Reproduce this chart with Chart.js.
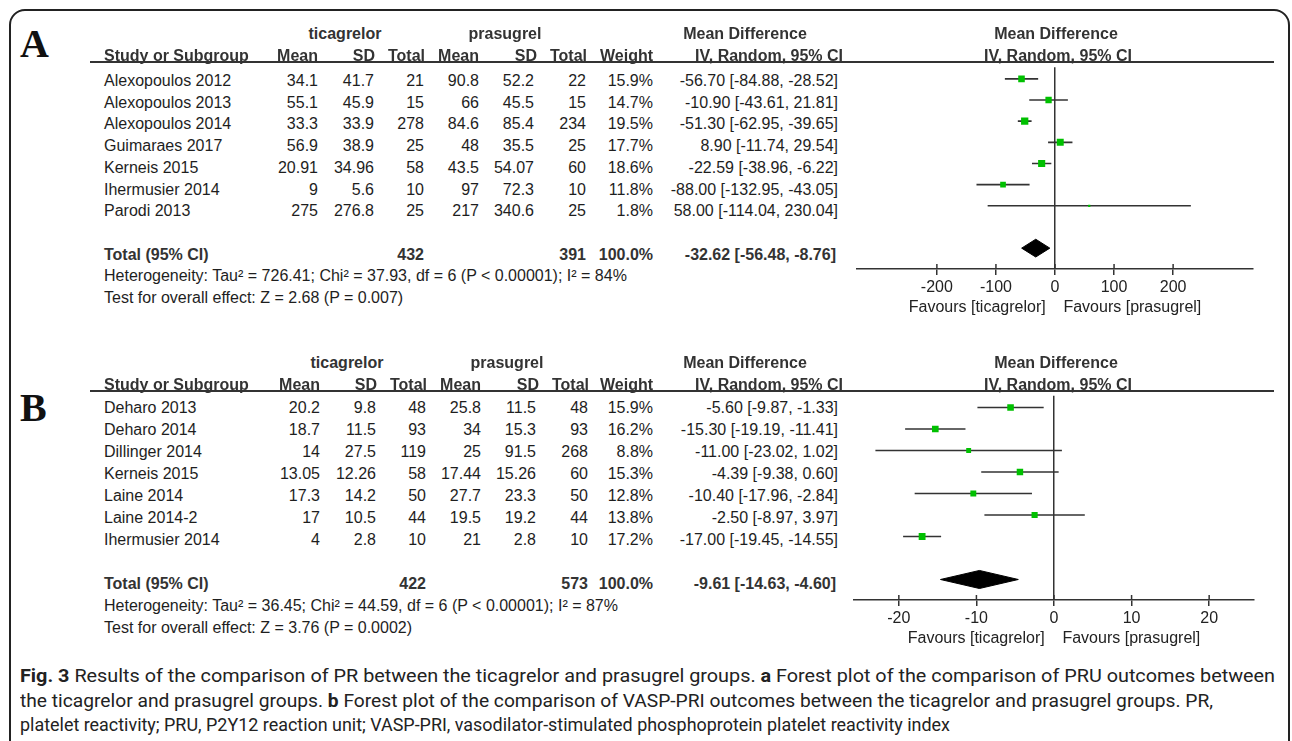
<!DOCTYPE html>
<html>
<head>
<meta charset="utf-8">
<script src="https://cdn.jsdelivr.net/npm/chart.js@4.4.1/dist/chart.umd.min.js"></script>
<style>
html, body { margin: 0; padding: 0; background: #fff; }
body { width: 1292px; height: 741px; overflow: hidden; position: relative; font-family: "Liberation Sans", Arial, sans-serif; }
#frame { position: absolute; left: 9px; top: 9px; width: 1281px; height: 820px; border: 2px solid #222; border-radius: 16px; box-sizing: border-box; }
.t { position: absolute; white-space: nowrap; font-size: 16px; line-height: 18px; color: #1e1e1e; }
.b { font-weight: bold; color: #333; }
.rule { position: absolute; height: 1.5px; background: #333; }
.letter { position: absolute; font-family: "Liberation Serif", "Times New Roman", serif; font-weight: bold; font-size: 40px; line-height: 40px; color: #111; }
canvas { position: absolute; }
.cap { position: absolute; left: 20px; white-space: nowrap; font-family: Roboto, "Noto Sans", sans-serif; font-size: 19px; line-height: 22px; color: #222; transform-origin: 0 0; }
.cap b { font-weight: bold; }
</style>
</head>
<body>
<div id="frame"></div>
<canvas id="forestA"></canvas>
<canvas id="forestB"></canvas>
<script>
// --- Data: panel A (PRU) ---
const studiesA = ['Alexopoulos 2012', 'Alexopoulos 2013', 'Alexopoulos 2014', 'Guimaraes 2017', 'Kerneis 2015', 'Ihermusier 2014', 'Parodi 2013'];
const ticMeanA = [34.1, 55.1, 33.3, 56.9, 20.91, 9, 275];
const ticSdA   = [41.7, 45.9, 33.9, 38.9, 34.96, 5.6, 276.8];
const ticNA    = [21, 15, 278, 25, 58, 10, 25];
const praMeanA = [90.8, 66, 84.6, 48, 43.5, 97, 217];
const praSdA   = [52.2, 45.5, 85.4, 35.5, 54.07, 72.3, 340.6];
const praNA    = [22, 15, 234, 25, 60, 10, 25];
const weightA  = [15.9, 14.7, 19.5, 17.7, 18.6, 11.8, 1.8];
const mdA      = [-56.70, -10.90, -51.30, 8.90, -22.59, -88.00, 58.00];
const loA      = [-84.88, -43.61, -62.95, -11.74, -38.96, -132.95, -114.04];
const hiA      = [-28.52, 21.81, -39.65, 29.54, -6.22, -43.05, 230.04];
const totalNA  = [432, 391];
const totalA   = [-32.62, -56.48, -8.76];
const hetA  = 'Heterogeneity: Tau² = 726.41; Chi² = 37.93, df = 6 (P < 0.00001); I² = 84%';
const testA = 'Test for overall effect: Z = 2.68 (P = 0.007)';
const ticksA = [-200, -100, 0, 100, 200];

// --- Data: panel B (VASP-PRI) ---
const studiesB = ['Deharo 2013', 'Deharo 2014', 'Dillinger 2014', 'Kerneis 2015', 'Laine 2014', 'Laine 2014-2', 'Ihermusier 2014'];
const ticMeanB = [20.2, 18.7, 14, 13.05, 17.3, 17, 4];
const ticSdB   = [9.8, 11.5, 27.5, 12.26, 14.2, 10.5, 2.8];
const ticNB    = [48, 93, 119, 58, 50, 44, 10];
const praMeanB = [25.8, 34, 25, 17.44, 27.7, 19.5, 21];
const praSdB   = [11.5, 15.3, 91.5, 15.26, 23.3, 19.2, 2.8];
const praNB    = [48, 93, 268, 60, 50, 44, 10];
const weightB  = [15.9, 16.2, 8.8, 15.3, 12.8, 13.8, 17.2];
const mdB      = [-5.60, -15.30, -11.00, -4.39, -10.40, -2.50, -17.00];
const loB      = [-9.87, -19.19, -23.02, -9.38, -17.96, -8.97, -19.45];
const hiB      = [-1.33, -11.41, 1.02, 0.60, -2.84, 3.97, -14.55];
const totalNB  = [422, 573];
const totalB   = [-9.61, -14.63, -4.60];
const hetB  = 'Heterogeneity: Tau² = 36.45; Chi² = 44.59, df = 6 (P < 0.00001); I² = 87%';
const testB = 'Test for overall effect: Z = 3.76 (P = 0.0002)';
const ticksB = [-20, -10, 0, 10, 20];

const favoursLabel = 'Favours [ticagrelor]    Favours [prasugrel]';
const FONT = '"Liberation Sans", Arial, sans-serif';

// --- text helpers ---
function put(txt, x, base, align, cls) {
    const d = document.createElement('div');
    d.className = 't' + (cls ? ' ' + cls : '');
    d.textContent = txt;
    d.style.top = (base - 14.5) + 'px';
    if (align === 'right') { d.style.left = (x - 500) + 'px'; d.style.width = '500px'; d.style.textAlign = 'right'; }
    else if (align === 'center') { d.style.left = (x - 250) + 'px'; d.style.width = '500px'; d.style.textAlign = 'center'; }
    else d.style.left = x + 'px';
    document.body.appendChild(d);
}
function rule(x1, x2, y) {
    const d = document.createElement('div');
    d.className = 'rule';
    d.style.left = x1 + 'px'; d.style.width = (x2 - x1) + 'px'; d.style.top = (y - 0.75) + 'px';
    document.body.appendChild(d);
}
const ci = (m, l, h) => `${m.toFixed(2)} [${l.toFixed(2)}, ${h.toFixed(2)}]`;

function buildTable(p) {
    const L = p.lineY, H = p.rowH, b0 = p.base0, dx = p.dx;
    const lt = document.createElement('div');
    lt.className = 'letter'; lt.textContent = p.letter;
    lt.style.left = '20px'; lt.style.top = p.letterTop + 'px';
    document.body.appendChild(lt);

    put('ticagrelor', 345 + dx, L - 22.7, 'center', 'b');
    put('prasugrel', 505 + dx, L - 22.7, 'center', 'b');
    put('Mean Difference', 745, L - 22.7, 'center', 'b');
    put('IV, Random, 95% CI', 843, L - 1, 'right', 'b');
    put('Mean Difference', 1056, L - 22.7, 'center', 'b');
    put('IV, Random, 95% CI', 1058, L - 1, 'center', 'b');
    put('Study or Subgroup', 104, L - 1, 'left', 'b');
    put('Mean', 318 + dx, L - 1, 'right', 'b');
    put('SD', 375 + dx, L - 1, 'right', 'b');
    put('Total', 425 + dx, L - 1, 'right', 'b');
    put('Mean', 479 + dx, L - 1, 'right', 'b');
    put('SD', 537 + dx, L - 1, 'right', 'b');
    put('Total', 587 + dx, L - 1, 'right', 'b');
    put('Weight', 653, L - 1, 'right', 'b');
    rule(90, 1274, L);

    p.studies.forEach((s, i) => {
        const y = b0 + H * i;
        put(s, 104, y);
        put(String(p.ticMean[i]), 318 + dx, y, 'right');
        put(String(p.ticSd[i]), 374 + dx, y, 'right');
        put(String(p.ticN[i]), 424 + dx, y, 'right');
        put(String(p.praMean[i]), 479 + dx, y, 'right');
        put(String(p.praSd[i]), 534 + dx, y, 'right');
        put(String(p.praN[i]), 586 + dx, y, 'right');
        put(p.weight[i].toFixed(1) + '%', 653, y, 'right');
        put(ci(p.md[i], p.lo[i], p.hi[i]), 838, y, 'right');
    });
    const n = p.studies.length;
    const yt = b0 + H * (n + 1);
    put('Total (95% CI)', 104, yt, 'left', 'b');
    put(String(p.totalN[0]), 424 + dx, yt, 'right', 'b');
    put(String(p.totalN[1]), 586 + dx, yt, 'right', 'b');
    put('100.0%', 653, yt, 'right', 'b');
    put(ci(p.total[0], p.total[1], p.total[2]), 836, yt, 'right', 'b');
    put(p.het, 104, yt + H);
    put(p.test, 104, yt + 2 * H);
}

// --- forest plot via Chart.js ---
const tickUp = {
    id: 'tickUp',
    afterDraw(chart) {
        const s = chart.scales.x, ctx = chart.ctx, b = chart.chartArea.bottom;
        ctx.save();
        ctx.strokeStyle = '#333'; ctx.lineWidth = 1.5;
        s.ticks.forEach(t => {
            const px = s.getPixelForValue(t.value);
            ctx.beginPath(); ctx.moveTo(px, b); ctx.lineTo(px, b - 5); ctx.stroke();
        });
        ctx.restore();
    }
};

function drawForest(id, p, box) {
    const AXIS_H = 55;
    const cv = document.getElementById(id);
    cv.width = box.w; cv.height = box.h + AXIS_H;
    cv.style.left = box.x + 'px'; cv.style.top = box.y + 'px';

    const n = p.md.length, ty = n + 1, dh = 0.42;
    const datasets = [{
        type: 'scatter',
        data: p.md.map((m, i) => ({ x: m, y: i })),
        pointStyle: 'rect',
        pointRadius: p.weight.map(w => 1.65 * Math.sqrt(w) / Math.SQRT2),
        pointBackgroundColor: '#00c000',
        pointBorderWidth: 0,
        order: 0
    }];
    p.md.forEach((m, i) => datasets.push({
        type: 'line',
        data: [{ x: p.lo[i], y: i }, { x: p.hi[i], y: i }],
        borderColor: '#333', borderWidth: 1.6, pointRadius: 0, fill: false, order: 1
    }));
    const [tm, tl, th] = p.total;
    datasets.push({
        type: 'line',
        data: [{ x: tl, y: ty }, { x: tm, y: ty - dh }, { x: th, y: ty }, { x: tm, y: ty + dh }, { x: tl, y: ty }],
        borderColor: '#000', backgroundColor: '#000', borderWidth: 1, fill: 'shape', pointRadius: 0, tension: 0, order: 1
    });

    new Chart(cv.getContext('2d'), {
        type: 'scatter',
        data: { datasets },
        plugins: [tickUp],
        options: {
            animation: false, responsive: false, maintainAspectRatio: false,
            layout: { padding: 0 },
            plugins: { legend: { display: false }, tooltip: { enabled: false } },
            scales: {
                x: {
                    type: 'linear', min: box.xmin, max: box.xmax,
                    afterBuildTicks: s => { s.ticks = p.ticks.map(v => ({ value: v })); },
                    afterFit: s => { s.height = AXIS_H; },
                    grid: {
                        drawOnChartArea: true,
                        color: c => (c.tick && c.tick.value === 0) ? '#333' : 'rgba(0,0,0,0)',
                        lineWidth: 1.5, tickColor: '#333', tickLength: 6
                    },
                    border: { display: true, color: '#333', width: 1.5 },
                    ticks: { font: { family: FONT, size: 16 }, color: '#222', padding: 3, maxRotation: 0, autoSkip: false },
                    title: { display: true, text: favoursLabel, font: { family: FONT, size: 16 }, color: '#222', padding: { top: 0, bottom: 7 } }
                },
                y: { type: 'linear', reverse: true, min: box.ymin, max: box.ymax, display: false }
            }
        }
    });
}

const panelA = { letter: 'A', letterTop: 24, lineY: 62, rowH: 21.7, base0: 86.5, dx: 0,
    studies: studiesA, ticMean: ticMeanA, ticSd: ticSdA, ticN: ticNA, praMean: praMeanA, praSd: praSdA, praN: praNA,
    weight: weightA, md: mdA, lo: loA, hi: hiA, totalN: totalNA, total: totalA, het: hetA, test: testA, ticks: ticksA };
const panelB = { letter: 'B', letterTop: 388, lineY: 391, rowH: 22, base0: 413.3, dx: 2,
    studies: studiesB, ticMean: ticMeanB, ticSd: ticSdB, ticN: ticNB, praMean: praMeanB, praSd: praSdB, praN: praNB,
    weight: weightB, md: mdB, lo: loB, hi: hiB, totalN: totalNB, total: totalB, het: hetB, test: testB, ticks: ticksB };

buildTable(panelA);
buildTable(panelB);
drawForest('forestA', panelA, { x: 852, y: 62, w: 406, h: 207, xmin: -335, xmax: 335, ymin: -12 / 21.7, ymax: 195 / 21.7 });
drawForest('forestB', panelB, { x: 849, y: 391, w: 410, h: 209, xmin: -25.8, xmax: 25.8, ymin: -12 / 22, ymax: 197 / 22 });

// --- caption (each line fitted to the width it spans in the figure) ---
const captionLines = [
    '<b>Fig. 3</b> Results of the comparison of PR between the ticagrelor and prasugrel groups. <b>a</b> Forest plot of the comparison of PRU outcomes between',
    'the ticagrelor and prasugrel groups. <b>b</b> Forest plot of the comparison of VASP-PRI outcomes between the ticagrelor and prasugrel groups. PR,',
    'platelet reactivity; PRU, P2Y12 reaction unit; VASP-PRI, vasodilator-stimulated phosphoprotein platelet reactivity index'
];
const capTops = [665, 690, 714];
const capWidths = [1255, 1193, 930];
captionLines.forEach((html, i) => {
    const d = document.createElement('div');
    d.className = 'cap'; d.innerHTML = html; d.style.top = capTops[i] + 'px';
    document.body.appendChild(d);
    const k = capWidths[i] / d.getBoundingClientRect().width;
    d.style.transform = `scaleX(${k})`;
});
</script>
</body>
</html>
